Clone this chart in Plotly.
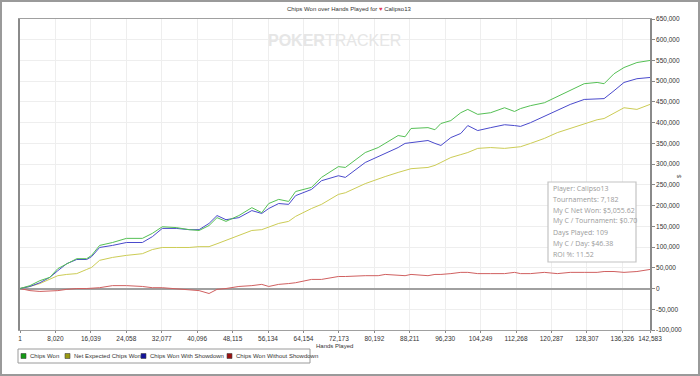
import plotly.graph_objects as go

# ---- data ----
hands = [1, 2250, 4500, 6760, 8560, 10580, 12840, 15090, 16210, 18020,
         20940, 24100, 27700, 29950, 32200, 35360, 38280, 40540, 42790, 44590,
         46620, 49540, 52470, 54720, 56300, 58550, 60800, 62380, 65980, 68240,
         72060, 73640, 78140, 81070, 82650, 85580, 87150, 88500, 92330, 93910,
         95260, 97510, 99760, 101340, 103590, 106520, 109670, 111920, 113280, 115530,
         118680, 121610, 124540, 127690, 130620, 132190, 134440, 136700, 139620, 142583]

# values in thousands of chips
chips_won_k = [0, 7, 19, 27, 48, 60, 72, 72, 80, 104,
               111, 121, 121, 133, 149, 147, 142, 140, 152, 171,
               162, 176, 195, 183, 205, 215, 210, 234, 244, 268,
               294, 292, 328, 340, 350, 369, 366, 386, 388, 383,
               398, 405, 424, 432, 420, 424, 436, 427, 434, 441,
               448, 463, 477, 494, 497, 494, 518, 533, 545, 550]
net_expected_k = [0, 5, 12, 22, 31, 34, 36, 46, 51, 68,
                  75, 80, 84, 94, 99, 99, 99, 101, 101, 108,
                  116, 128, 140, 142, 149, 157, 162, 174, 193, 203,
                  227, 231, 253, 265, 270, 280, 285, 289, 292, 297,
                  304, 316, 323, 328, 338, 340, 338, 340, 342, 350,
                  362, 376, 386, 398, 407, 410, 422, 436, 432, 444]
with_showdown_k = [0, 5, 14, 27, 43, 60, 70, 70, 77, 99,
                   104, 111, 111, 125, 145, 145, 142, 142, 157, 176,
                   166, 171, 188, 181, 193, 205, 203, 224, 239, 260,
                   272, 268, 304, 318, 325, 340, 350, 352, 357, 350,
                   345, 364, 374, 393, 381, 388, 395, 393, 391, 400,
                   415, 429, 444, 456, 458, 458, 477, 497, 506, 509]
without_showdown_k = [0, -5, -7, -6, -5, -2, 0, 0, 1, 2,
                      7, 7, 5, 2, 2, 0, -2, -5, -12, -2,
                      0, 5, 7, 10, 5, 10, 12, 14, 22, 22,
                      29, 29, 31, 31, 34, 31, 31, 34, 31, 34,
                      34, 36, 39, 39, 36, 36, 36, 39, 36, 36,
                      39, 36, 39, 39, 39, 41, 41, 39, 41, 46]

x_tick_vals = [1, 8020, 16039, 24058, 32077, 40096, 48115, 56134, 64154, 72173,
               80192, 88211, 96230, 104249, 112268, 120287, 128307, 136326, 142583]
y_tick_vals = list(range(-100000, 650001, 50000))

series_names = ["Chips Won", "Net Expected Chips Won", "Chips Won With Showdown",
                "Chips Won Without Showdown"]
series_values = [chips_won_k, net_expected_k, with_showdown_k, without_showdown_k]

stats_lines = ["Player: Calipso13", "Tournaments: 7,182", "My C Net Won: $5,055.62",
               "My C / Tournament: $0.70", "Days Played: 109", "My C / Day: $46.38",
               "ROI %: 11.52"]

# ---- styling ----
line_colors = ["#55c055", "#cccc55", "#4a4acc", "#d06060"]
legend_fill = ["#139a13", "#9a9a12", "#12129a", "#9a1212"]
FONT = "Liberation Sans, Arial"

W, H = 700, 376
L, R, T, B = 20, 50, 19, 46
PW, PH = W - L - R, H - T - B


def px(x):
    return (x - L) / PW


def py(y):
    return (H - B - y) / PH


fig = go.Figure()
order = [1, 3, 2, 0]
for i in order:
    fig.add_trace(go.Scatter(
        x=hands, y=[v * 1000 for v in series_values[i]], mode="lines",
        name=series_names[i], line=dict(color=line_colors[i], width=1),
        showlegend=False, hoverinfo="skip"))

shapes = []
annotations = []

# outer frame
shapes.append(dict(type="rect", xref="paper", yref="paper",
                   x0=px(1), x1=px(W - 1), y0=py(H - 1), y1=py(1),
                   line=dict(color="#9a9a9a", width=2), layer="below"))

# title
annotations.append(dict(
    xref="paper", yref="paper", x=px(349), y=py(9), showarrow=False,
    text='Chips Won over Hands Played for <span style="color:#e0405a">♥</span> Calipso13',
    font=dict(family=FONT, size=6, color="#333333"),
    xanchor="center", yanchor="middle"))

# watermark
annotations.append(dict(
    xref="paper", yref="paper", x=px(334), y=py(41), showarrow=False,
    text='<b>POKER</b>TRACKER',
    font=dict(family="Liberation Sans Narrow, Liberation Sans, Arial", size=16, color="#e6e6e6"),
    xanchor="center", yanchor="middle"))

# x axis title
annotations.append(dict(
    xref="paper", yref="paper", x=px(334), y=py(345.5), showarrow=False,
    text="Hands Played",
    font=dict(family=FONT, size=6, color="#333333"),
    xanchor="center", yanchor="middle"))

# y axis title
annotations.append(dict(
    xref="paper", yref="paper", x=px(679), y=py(176), showarrow=False,
    text="$", textangle=-90,
    font=dict(family=FONT, size=6, color="#333333"),
    xanchor="center", yanchor="middle"))

# stats box
shapes.append(dict(type="rect", xref="paper", yref="paper",
                   x0=px(548), x1=px(636), y0=py(262), y1=py(182),
                   line=dict(color="#c4c4c4", width=1.2), fillcolor="white"))
for k, s in enumerate(stats_lines):
    annotations.append(dict(
        xref="paper", yref="paper", x=px(551), y=py(188 + 11 * k), showarrow=False,
        text=s, font=dict(family="Open Sans", size=7, color="#9a9a9a"),
        xanchor="left", yanchor="middle"))

# manual legend
shapes.append(dict(type="rect", xref="paper", yref="paper",
                   x0=px(18), x1=px(310), y0=py(363), y1=py(349),
                   line=dict(color="#9a9a9a", width=1), fillcolor="white"))
leg_x = [21, 65, 141, 227]
for k in range(4):
    shapes.append(dict(type="rect", xref="paper", yref="paper",
                       x0=px(leg_x[k]), x1=px(leg_x[k] + 5),
                       y0=py(358.5), y1=py(353.5),
                       line=dict(color="#444444", width=0.6), fillcolor=legend_fill[k]))
    annotations.append(dict(
        xref="paper", yref="paper", x=px(leg_x[k] + 7), y=py(356), showarrow=False,
        text=series_names[k],
        font=dict(family=FONT, size=6, color="#333333"),
        xanchor="left", yanchor="middle"))

fig.update_layout(
    width=W, height=H,
    margin=dict(l=L, r=R, t=T, b=B),
    paper_bgcolor="white", plot_bgcolor="white",
    showlegend=False,
    shapes=shapes, annotations=annotations,
    xaxis=dict(range=[1, 142583], tickvals=x_tick_vals,
               ticktext=[f"{v:,}" for v in x_tick_vals],
               tickfont=dict(family=FONT, size=6.5, color="#333333"),
               ticks="outside", ticklen=2, tickcolor="#888888",
               showgrid=True, gridcolor="#eeeeee", gridwidth=1,
               showline=True, linecolor="#a0a0a0", linewidth=1, mirror=True,
               zeroline=False, fixedrange=True, automargin=False),
    yaxis=dict(range=[-100000, 650000], tickvals=y_tick_vals,
               ticktext=[f"{v:,}" for v in y_tick_vals], side="right",
               tickfont=dict(family=FONT, size=6.5, color="#333333"),
               ticks="outside", ticklen=3, tickcolor="#888888",
               showgrid=True, gridcolor="#eeeeee", gridwidth=1,
               showline=True, linecolor="#8a8a8a", linewidth=1.5, mirror=True,
               zeroline=True, zerolinecolor="#a0a0a0", zerolinewidth=1.5,
               fixedrange=True, automargin=False),
)

fig.write_html("out.html", config={"displayModeBar": False},
               post_script="document.body.style.margin='0';document.body.style.overflow='hidden';")
